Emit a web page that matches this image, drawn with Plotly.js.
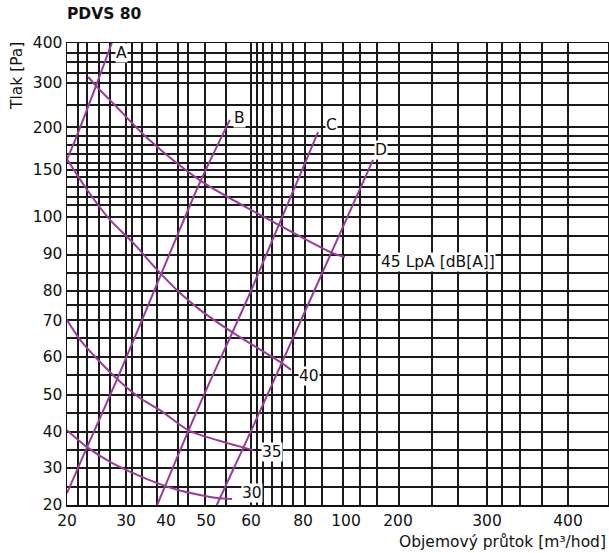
<!DOCTYPE html>
<html><head><meta charset="utf-8">
<script src="https://cdn.plot.ly/plotly-3.0.1.min.js"></script>
<style>html,body{margin:0;padding:0;background:#fff}</style>
</head><body>
<div id="chart" style="width:609px;height:553px"></div>
<script>
// ---- Scale tick labels (printed, non-uniform scale) ----
const xTickValues = [20, 30, 40, 50, 60, 80, 100, 200, 300, 400];
const yTickValues = [20, 30, 40, 50, 60, 70, 80, 90, 100, 150, 200, 300, 400];

// ---- Fan characteristic curves: flow [m3/h] vs pressure [Pa] ----
const fanA_flow = [20, 21.4, 24.9, 27.6];
const fanA_pressure = [163, 186, 293, 400];
const fanB_flow = [20, 23.4, 28.5, 34, 41, 48.5, 55.3];
const fanB_pressure = [23.2, 35.8, 54.2, 70.3, 90.3, 137, 218];
const fanC_flow = [37.8, 48.5, 59.1, 72.3, 87];
const fanC_pressure = [20, 47.6, 77, 102, 195];
const fanD_flow = [52.4, 59.1, 83.3, 152];
const fanD_pressure = [20, 37.8, 77, 162];
const fanNames = ["A", "B", "C", "D"];

// ---- Noise curves LpA [dB(A)] ----
const noise45_flow = [23.6, 25.1, 28.1, 35.3, 48.5, 70.8, 93.5, 99.5];
const noise45_pressure = [315, 291, 251, 188, 139, 97.8, 90.3, 89.2];
const noise40_flow = [20, 23.4, 27.3, 31.8, 37.8, 43.5, 48.5, 55.8, 71.2, 75.4];
const noise40_pressure = [163, 129, 99.2, 93, 85.7, 79.3, 73.7, 66.9, 58.7, 56.6];
const noise35_flow = [20, 22.5, 28.5, 33.5, 38.5, 45.5, 48.5, 58, 60.8];
const noise35_pressure = [70.3, 64.2, 54.2, 49.2, 45.9, 40.5, 39.2, 35.8, 35];
const noise30_flow = [20, 23.4, 27.3, 31.8, 37.8, 42.8, 48.5, 52.4, 55.8];
const noise30_pressure = [40.5, 35.8, 31.7, 28.6, 25.9, 24.1, 22.7, 21.9, 21.6];
const noiseLabels = ["45 LpA [dB[A]]", "40", "35", "30"];

// ---- Layout / style: printed scale positions (axis units) ----
const xTickPos = [67, 126, 166, 206, 251, 303, 346, 398, 487, 568];
const yTickPos = [505, 468, 432, 395, 357, 321, 291, 254, 217, 170, 128, 83, 43];
const xGridPos = [67, 78, 87, 99, 110, 126, 132, 142, 157, 178, 188, 205, 226, 251, 257, 263, 272, 282, 293, 305, 322, 343, 360, 377, 399, 432, 458, 487, 502, 520, 542, 568, 607];
const yGridPos = [43, 53, 62, 73, 83, 105, 127, 136, 145, 154, 163, 170, 177, 187, 197, 205, 217, 236, 255, 273, 291, 305, 320, 338, 357, 375, 395, 413, 432, 450, 468, 487, 505];

function scale(v, vals, pos) {
  let i = 0;
  while (i < vals.length - 2 && v > vals[i + 1]) i++;
  const t = (v - vals[i]) / (vals[i + 1] - vals[i]);
  return pos[i] + t * (pos[i + 1] - pos[i]);
}
const fx = v => scale(v, xTickValues, xTickPos);
const fy = v => scale(v, yTickValues, yTickPos);

const purple = "#983c98";
const FONT = "DejaVu Sans, Arial, sans-serif";
const fans = [[fanA_flow, fanA_pressure], [fanB_flow, fanB_pressure], [fanC_flow, fanC_pressure], [fanD_flow, fanD_pressure]];
const noises = [[noise45_flow, noise45_pressure], [noise40_flow, noise40_pressure], [noise35_flow, noise35_pressure], [noise30_flow, noise30_pressure]];

const traces = [];
fans.concat(noises).forEach(([q, p]) => {
  traces.push({
    x: q.map(fx), y: p.map(fy), mode: "lines", type: "scatter",
    line: {color: purple, width: 2, shape: "spline", smoothing: 0.8},
    hoverinfo: "skip", showlegend: false
  });
});

const fanShift = [[9.5, -9.5], [10, 2], [13, 7], [8, 10]];
const noiseShift = [[35, -5], [7, -6], [8, -2], [9, 6]];
const annotations = [];
fans.forEach(([q, p], i) => {
  const n = q.length - 1;
  annotations.push({x: fx(q[n]), y: fy(p[n]), xref: "x", yref: "y", text: fanNames[i], showarrow: false,
    xanchor: "center", yanchor: "middle", xshift: fanShift[i][0], yshift: fanShift[i][1],
    bgcolor: "#fff", borderpad: 0, font: {family: FONT, size: 15.5, color: "#111"}});
});
noises.forEach(([q, p], i) => {
  const n = q.length - 1;
  annotations.push({x: fx(q[n]), y: fy(p[n]), xref: "x", yref: "y", text: noiseLabels[i], showarrow: false,
    xanchor: "left", yanchor: "middle", xshift: noiseShift[i][0], yshift: noiseShift[i][1],
    bgcolor: "#fff", borderpad: 0, font: {family: FONT, size: 15.5, color: "#111"}});
});
annotations.push({xref: "paper", yref: "paper", x: (17 - 67) / 541, y: (505 - 76) / 462, text: "Tlak [Pa]",
  textangle: -90, showarrow: false, xanchor: "center", yanchor: "middle", font: {family: FONT, size: 15.5, color: "#111"}});
annotations.push({xref: "paper", yref: "paper", x: 1, y: (505 - 542) / 462, text: "Objemový průtok [m³/hod]",
  showarrow: false, xanchor: "right", yanchor: "middle", font: {family: FONT, size: 15.5, color: "#111"}});

const gridStyle = {showgrid: true, gridcolor: "#1a1a1a", gridwidth: 1.3, tickmode: "array", ticks: ""};
const layout = {
  width: 609, height: 553,
  margin: {l: 67, r: 1, t: 43, b: 48, pad: 0},
  paper_bgcolor: "#fff", plot_bgcolor: "#fff",
  title: {text: "<b>PDVS 80</b>", x: 67 / 609, xanchor: "left", y: 1 - 14 / 553, yanchor: "middle",
    font: {family: FONT, size: 15.5, color: "#111"}},
  xaxis: {range: [67, 608], tickmode: "array", tickvals: xTickPos, ticktext: xTickValues.map(String),
    showgrid: false, zeroline: false, showline: true, linecolor: "#111", linewidth: 1.5, mirror: true,
    ticks: "", ticklabelstandoff: 1, tickfont: {family: FONT, size: 15.5, color: "#111"},
    minor: Object.assign({tickvals: xGridPos}, gridStyle), fixedrange: true},
  yaxis: {range: [505, 43], tickmode: "array", tickvals: yTickPos, ticktext: yTickValues.map(String),
    showgrid: false, zeroline: false, showline: true, linecolor: "#111", linewidth: 1.5, mirror: true,
    ticks: "", ticklabelstandoff: 0, tickfont: {family: FONT, size: 15.5, color: "#111"},
    minor: Object.assign({tickvals: yGridPos}, gridStyle), fixedrange: true},
  annotations: annotations
};
Plotly.newPlot("chart", traces, layout, {staticPlot: true, displayModeBar: false});
</script>
</body></html>
